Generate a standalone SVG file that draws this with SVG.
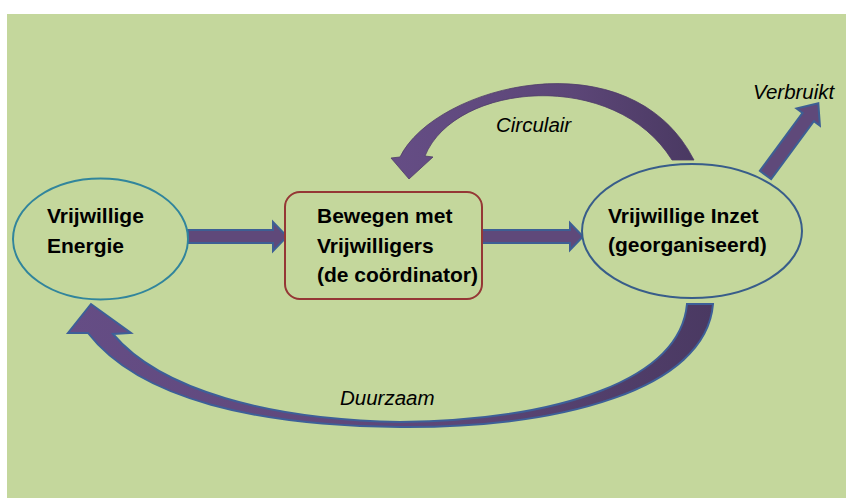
<svg xmlns="http://www.w3.org/2000/svg" width="846" height="498" viewBox="0 0 846 498">
  <style>
    .bold { font-family: "Liberation Sans", Arial, sans-serif; font-weight: bold; font-size: 21px; fill: #000; }
    .ital { font-family: "Liberation Sans", Arial, sans-serif; font-style: italic; font-size: 20.5px; fill: #000; }
    .arrow { fill: #5f497a; stroke: #3d5f94; stroke-width: 2; stroke-linejoin: miter; }
  </style>
  <defs>
    <linearGradient id="purpleGrad" x1="0" y1="0" x2="1" y2="0">
      <stop offset="0" stop-color="#654d85"/>
      <stop offset="0.6" stop-color="#5c4677"/>
      <stop offset="1" stop-color="#4a3962"/>
    </linearGradient>
  </defs>
  <rect x="0" y="0" width="846" height="498" fill="#ffffff"/>
  <rect x="7" y="14" width="839" height="484" fill="#c4d79c"/>

  <g id="connectors">
    <!-- Circulair curved arrow -->
    <path id="arrow-circulair" d="M 400 157 C 435 85 630 35 694 160 L 672 160 C 615 68 455 82 425 156 L 433 157 L 409 179 L 391 158 Z" fill="url(#purpleGrad)" stroke="#4e3c68" stroke-width="0.8"/>
    <!-- Duurzaam curved arrow -->
    <path id="arrow-duurzaam" d="M 88 333 C 140 400 260 426 400 427 C 560 428 706 390 713 304 L 687 304 C 680 380 560 420 400 422 C 270 420 160 390 113 334 L 131 333 L 91 304 L 68 333 Z" fill="url(#purpleGrad)" stroke="#3d5f98" stroke-width="2" stroke-linejoin="miter"/>
    <!-- straight arrows -->
    <polygon id="arrow-1" class="arrow" points="188,230 273,230 273,222 287,236.5 273,251 273,243 188,243"/>
    <polygon id="arrow-2" class="arrow" points="482,230 570,230 570,223 583,236.5 570,250 570,243 482,243"/>
    <polygon id="arrow-verbruikt" class="arrow" transform="translate(765.5,175) rotate(-53.6)" points="0,-7 72,-7 72,-14.5 89,0 72,14.5 72,7 0,7"/>
  </g>

  <g id="node-energie">
    <ellipse cx="100.5" cy="239" rx="87.5" ry="60.5" fill="#c4d79c" stroke="#31859c" stroke-width="2"/>
    <text class="bold" x="47" y="223">Vrijwillige</text>
    <text class="bold" x="47" y="253">Energie</text>
  </g>

  <g id="node-coordinator">
    <rect x="285" y="192" width="197" height="107" rx="15" ry="15" fill="#c4d79c" stroke="#953735" stroke-width="2"/>
    <text class="bold" x="317" y="223">Bewegen met</text>
    <text class="bold" x="317" y="253">Vrijwilligers</text>
    <text class="bold" x="317" y="282">(de coördinator)</text>
  </g>

  <g id="node-inzet">
    <ellipse cx="692" cy="231" rx="110" ry="67" fill="#c4d79c" stroke="#385d8a" stroke-width="2"/>
    <text class="bold" x="608" y="223">Vrijwillige Inzet</text>
    <text class="bold" x="608" y="252">(georganiseerd)</text>
  </g>

  <g id="labels">
    <text class="ital" x="496" y="132">Circulair</text>
    <text class="ital" x="340" y="405">Duurzaam</text>
    <text class="ital" x="753" y="99">Verbruikt</text>
  </g>
</svg>
